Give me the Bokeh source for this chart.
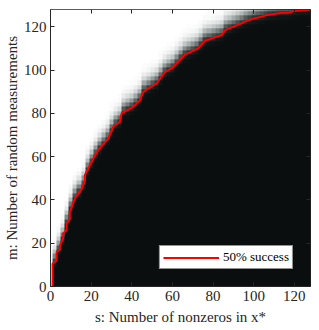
import numpy as np
from bokeh.plotting import figure
from bokeh.models import LinearAxis, Legend, LegendItem, LinearColorMapper, FixedTicker, Range1d, CustomJSTickFormatter
from bokeh.embed import file_html
from bokeh.resources import INLINE

# 50% success contour: (s, m)
contour_s = [1, 1, 3, 3, 4.6, 4.6, 6.2, 6.2, 7.9, 7.9, 9.5, 9.5, 12, 15.3, 16.9, 16.9,
             21, 23.5, 28.4, 30.9, 34.1, 35, 40.7, 44, 45.7, 52.2, 56.3, 60, 66, 72.7,
             76, 84.2, 86, 94, 95.7, 100.5, 104, 107, 113.8, 117, 120, 127.6]
contour_m = [0, 10.5, 12, 16, 17, 19, 22, 24.5, 26, 29, 31, 34.4, 40.7, 45, 49, 51.4,
             59, 63, 68.4, 73.8, 76, 80, 83, 86, 90, 93.8, 99, 101, 107, 110,
             113.5, 116.2, 118.5, 121.6, 122.4, 124, 124.7, 125.5, 126.5, 126.5, 127.3, 128]

# grid of trials (cell centers)
s_grid = list(range(0, 129, 2))
m_grid = list(range(0, 129, 2))
band_width = 2.2  # width of the gray transition band (in m units)

x_ticks = [0, 20, 40, 60, 80, 100, 120]
y_ticks = [0, 20, 40, 60, 80, 100, 120]

# success probability on the grid around the read contour
S, M = np.meshgrid(np.array(s_grid, float), np.array(m_grid, float))
boundary = np.interp(S, contour_s, contour_m, left=-8.0)
prob = 1.0 / (1.0 + np.exp(-(M - boundary) / band_width))

# palette: dark near-black to white, slightly cyan-tinted greys, nonlinear
palette = []
for i in range(256):
    v = i / 255.0
    g = v ** 3
    r = 11 + (255 - 11) * g
    gg = 14 + (255 - 14) * (g ** 0.93)
    b = 14 + (255 - 14) * (g ** 0.93)
    palette.append("#%02x%02x%02x" % (int(round(r)), int(round(min(gg, 255))), int(round(min(b, 255)))))
mapper = LinearColorMapper(palette=palette, low=0.0, high=1.0)

FONT = "Liberation Serif"
AX = "#262626"

p = figure(width=319, height=330, output_backend="svg", toolbar_location=None,
           x_range=Range1d(0, 128), y_range=Range1d(0, 128),
           min_border_left=48, min_border_right=9, min_border_top=9, min_border_bottom=44,
           background_fill_color="white", border_fill_color="white")
p.grid.visible = False
p.outline_line_color = AX

p.image(image=[prob], x=-1, y=-1, dw=130, dh=130, color_mapper=mapper)

r = p.line(contour_s, contour_m, line_color="#ff0000", line_width=2)

def style(ax):
    ax.ticker = FixedTicker(ticks=x_ticks)
    ax.axis_line_color = AX
    ax.major_tick_line_color = AX
    ax.major_tick_in = 4
    ax.major_tick_out = 0
    ax.minor_tick_line_color = None
    ax.major_label_text_font = FONT
    ax.major_label_text_font_size = "15px"
    ax.major_label_text_color = AX
    ax.axis_label_text_font = FONT
    ax.axis_label_text_font_size = "15px"
    ax.axis_label_text_font_style = "normal"
    ax.axis_label_text_color = AX

style(p.xaxis[0])
style(p.yaxis[0])
p.yaxis[0].ticker = FixedTicker(ticks=y_ticks)
p.xaxis[0].axis_label = "s: Number of nonzeros in x*"
p.yaxis[0].axis_label = "m: Number of random measurements"
p.xaxis[0].major_label_standoff = 4
p.xaxis[0].axis_label_standoff = 5
p.yaxis[0].major_label_standoff = 4
p.yaxis[0].axis_label_standoff = 1

blank = CustomJSTickFormatter(code="return ''")
top = LinearAxis(formatter=blank, fixed_location=128)
right = LinearAxis(formatter=blank, fixed_location=128)
for ax in (top, right):
    style(ax)
    ax.major_label_text_font_size = "1px"
    ax.major_label_standoff = 0
p.add_layout(top, "above")
p.add_layout(right, "right")
right.ticker = FixedTicker(ticks=y_ticks)

legend = Legend(items=[LegendItem(label="50% success", renderers=[r])],
                location="bottom_right", margin=17, padding=3, spacing=0,
                glyph_width=56, glyph_height=11, label_height=11, label_standoff=4,
                label_text_font=FONT, label_text_font_size="13px", label_text_color="black",
                border_line_color=AX, border_line_width=1,
                background_fill_color="white", background_fill_alpha=1.0)
p.add_layout(legend, "center")

open("out.html", "w").write(file_html(p, INLINE))
